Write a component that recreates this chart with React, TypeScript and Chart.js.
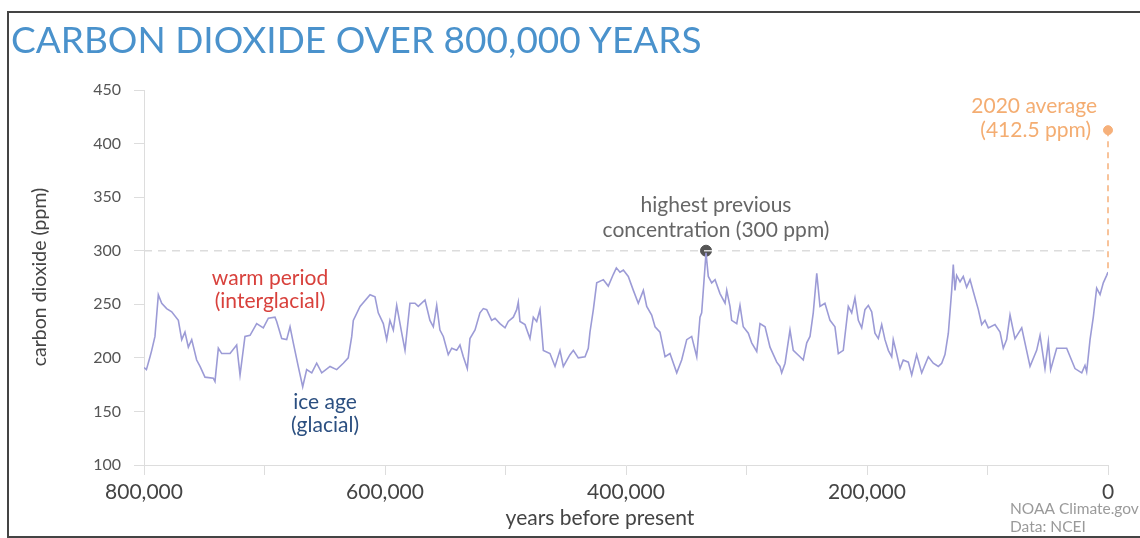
import React, { useEffect, useRef } from "react";
import { Chart, registerables } from "chart.js";

Chart.register(...registerables);

// thousands of years before present
const kyrBP: number[] = [
  800, 798, 795, 793.6, 790.9, 788.1, 785.3, 781.2, 777, 771.5, 768.7, 766, 763.2, 760.4, 756.3, 753.5, 749.4, 742.5, 741.1, 738.3,
  735.5, 728.6, 723.1, 720.3, 716.2, 712, 706.5, 701, 696.8, 691.3, 689.9, 685.7, 681.6, 678.8, 676.1, 672, 668.3, 665, 660.8, 656.7,
  652.5, 645.6, 640.1, 634.6, 630.5, 627.6, 626.3, 620.7, 612.4, 608.3, 605.6, 601.4, 598.6, 595.9, 593.1, 590.3, 586.1, 583.4, 579.3, 575.1,
  572.4, 566.8, 562.7, 559.9, 557.1, 554.4, 551.6, 547.5, 544.6, 540.5, 537.8, 535, 531.7, 529.5, 525.3, 521.2, 518.4, 515.6, 511.5, 508.7,
  504.6, 500.4, 497.7, 493.5, 490.7, 489.4, 488, 483.8, 479.7, 476.9, 474.1, 471.4, 468.6, 463.1, 458.9, 454.8, 452, 446.5, 443.7, 439.6,
  434, 431.3, 429.9, 427.1, 424.3, 418.8, 414.7, 410.5, 408, 405, 402.2, 398.1, 393.9, 389.8, 385.6, 382.8, 378.7, 375.9, 371.8, 367.6,
  363.5, 357.9, 353.8, 349.6, 345.5, 341.3, 338.6, 337.2, 333.6, 331.7, 328.9, 326.1, 322, 317.8, 316.4, 313.7, 312.3, 308.1, 305.4, 302.7,
  298.5, 295.7, 291.5, 288.8, 284.6, 280.5, 274.9, 272.2, 270.8, 268, 263.9, 261.2, 255.6, 252.9, 250, 247.3, 244.6, 241.7, 239, 234.9,
  230.7, 226.6, 223.8, 219.7, 215.5, 212.7, 210, 207.2, 204.4, 201.7, 198.9, 196.1, 193.4, 190.6, 187.8, 185.1, 182.3, 179.5, 178.2, 175.4,
  172.6, 169.9, 165.7, 162.9, 158.8, 154.6, 149.1, 145, 140.8, 138, 135.3, 132.5, 129.7, 128.4, 127, 125.6, 122.8, 120.1, 117.3, 114.5,
  111.8, 107.6, 104.8, 102.1, 99.3, 93.8, 89.6, 86.9, 84.1, 81.3, 77.2, 71.6, 64.7, 59.2, 56.4, 52.3, 49.5, 47.6, 42.6, 34.3,
  27.4, 21.8, 19.1, 17.7, 14.9, 12.2, 9.4, 6.6, 3.9, 1.1, 0,
];

// carbon dioxide, ppm
const co2ppm: number[] = [
  191, 189, 201, 207, 220, 259, 251, 246, 243, 235, 217, 224, 210, 217, 198, 192, 182, 181, 178, 209,
  204, 204, 212, 184, 220, 221, 232, 228, 237, 238, 234, 218, 217, 229, 214, 192, 173, 189, 186, 195,
  186, 192, 189, 195, 200, 220, 235, 248, 259, 257, 242, 232, 217, 235, 226, 249, 223, 207, 251, 251,
  248, 254, 235, 229, 249, 226, 220, 203, 209, 207, 212, 201, 190, 218, 226, 242, 246, 245, 235, 237,
  232, 228, 234, 238, 245, 252, 234, 231, 218, 238, 234, 245, 207, 204, 192, 207, 192, 203, 207, 200,
  201, 209, 224, 245, 270, 273, 267, 278, 284, 280, 282, 276, 263, 251, 263, 248, 240, 229, 224, 201,
  204, 186, 198, 217, 220, 201, 238, 242, 298, 276, 270, 273, 260, 251, 263, 248, 235, 232, 249, 229,
  223, 214, 206, 232, 229, 210, 196, 192, 186, 195, 226, 207, 201, 198, 214, 220, 242, 279, 248, 251,
  235, 229, 204, 207, 248, 242, 256, 235, 228, 245, 249, 243, 223, 218, 231, 217, 207, 201, 217, 204,
  190, 198, 196, 184, 203, 186, 201, 195, 192, 195, 203, 223, 263, 287, 263, 277, 271, 276, 266, 273,
  262, 245, 231, 235, 228, 231, 224, 209, 217, 240, 218, 228, 192, 207, 221, 190, 215, 189, 209, 209,
  190, 186, 193, 187, 217, 238, 265, 259, 270, 277, 280,
];

const yTicks: number[] = [100, 150, 200, 250, 300, 350, 400, 450];
const xTickLabels: number[] = [800000, 600000, 400000, 200000, 0];

const previousHigh = { kyr: 333.6, ppm: 300 };
const avg2020 = { kyr: 0, ppm: 412.5 };
const preIndustrialTop = 280;

const FONT = "Lato, 'Open Sans', sans-serif";

export default function App() {
  const canvasRef = useRef<HTMLCanvasElement | null>(null);

  useEffect(() => {
    const canvas = canvasRef.current;
    if (!canvas) return;

    const points = kyrBP.map((k, i) => ({ x: k * 1000, y: co2ppm[i] }));

    const textPlugin = {
      id: "texts",
      afterDraw(chart: any) {
        const ctx = chart.ctx;
        const xs = chart.scales.x;
        const ca = chart.chartArea;
        ctx.save();
        ctx.textBaseline = "middle";
        const put = (t: string, x: number, y: number, color: string, size: number, align: CanvasTextAlign = "center") => {
          ctx.font = `${size}px ${FONT}`;
          ctx.fillStyle = color;
          ctx.textAlign = align;
          ctx.fillText(t, x, y);
        };
        const hx = xs.getPixelForValue(previousHigh.kyr * 1000);
        put("highest previous", hx + 10, 205, "#666666", 21);
        put("concentration (300 ppm)", hx + 10, 230, "#666666", 21);
        put("2020 average", ca.right - 11, 106, "#f4ad72", 21, "right");
        put("(412.5 ppm)", ca.right - 17, 130, "#f4ad72", 21, "right");
        put("warm period", 270, 278, "#d8413c", 21);
        put("(interglacial)", 270, 301, "#d8413c", 21);
        put("ice age", 325, 402, "#2b4f80", 21);
        put("(glacial)", 325, 425, "#2b4f80", 21);
        put("years before present", 600, 518, "#444444", 21);
        put("NOAA Climate.gov", 1010, 509, "#9a9a9a", 15.5, "left");
        put("Data: NCEI", 1010, 527, "#9a9a9a", 15.5, "left");
        ctx.translate(40, 277);
        ctx.rotate(-Math.PI / 2);
        put("carbon dioxide (ppm)", 0, 0, "#444444", 19.5);
        ctx.restore();
      },
    };

    const chart = new Chart(canvas, {
      type: "line",
      data: {
        datasets: [
          {
            label: "CO2",
            data: points,
            borderColor: "#9c9bd6",
            borderWidth: 1.6,
            pointRadius: 0,
            tension: 0,
          },
          {
            label: "300 line",
            data: [
              { x: 800000, y: previousHigh.ppm },
              { x: 3000, y: previousHigh.ppm },
            ],
            borderColor: "#dcdcdc",
            borderWidth: 1.5,
            borderDash: [8, 6],
            pointRadius: 0,
          },
          {
            label: "2020 line",
            data: [
              { x: avg2020.kyr * 1000, y: avg2020.ppm },
              { x: avg2020.kyr * 1000, y: preIndustrialTop },
            ],
            borderColor: "#f6b07a",
            borderWidth: 1.5,
            borderDash: [6, 5],
            pointRadius: 0,
            clip: false as any,
          },
          {
            label: "high point",
            data: [{ x: previousHigh.kyr * 1000, y: previousHigh.ppm }],
            showLine: false,
            pointRadius: 5.5,
            pointBackgroundColor: "#555555",
            pointBorderColor: "#555555",
          },
          {
            label: "2020 point",
            data: [{ x: avg2020.kyr * 1000, y: avg2020.ppm }],
            showLine: false,
            pointRadius: 4.5,
            pointBackgroundColor: "#f6b07a",
            pointBorderColor: "#f6b07a",
            clip: false as any,
          },
        ],
      },
      options: {
        responsive: false,
        animation: false,
        parsing: true,
        layout: { padding: { left: 0, top: 90, right: 32, bottom: 0 } },
        plugins: { legend: { display: false }, tooltip: { enabled: false }, title: { display: false } },
        scales: {
          x: {
            type: "linear",
            reverse: true,
            min: 0,
            max: 800000,
            afterFit: (s: any) => {
              s.height = 73;
            },
            afterBuildTicks: (s: any) => {
              const t: any[] = [];
              for (let v = 0; v <= 800000; v += 100000) t.push({ value: v });
              s.ticks = t;
            },
            ticks: {
              autoSkip: false,
              maxRotation: 0,
              padding: 5,
              color: "#444444",
              font: { family: FONT, size: 21 },
              callback: (v: any) => (xTickLabels.includes(Number(v)) ? Number(v).toLocaleString("en-US") : ""),
            },
            grid: { drawOnChartArea: false, tickLength: 10, color: "#dddddd" },
            border: { color: "#dddddd" },
          },
          y: {
            type: "linear",
            min: 100,
            max: 450,
            afterFit: (s: any) => {
              s.width = 144;
            },
            afterBuildTicks: (s: any) => {
              s.ticks = yTicks.map((v) => ({ value: v }));
            },
            ticks: {
              padding: 13,
              color: "#555555",
              font: { family: FONT, size: 16 },
            },
            grid: { drawOnChartArea: false, tickLength: 10, color: "#dddddd" },
            border: { color: "#dddddd" },
          },
        },
      },
      plugins: [textPlugin],
    } as any);

    return () => chart.destroy();
  }, []);

  return (
    <div style={{ position: "absolute", left: 0, top: 0, width: 1140, height: 538, background: "#ffffff", overflow: "hidden" }}>
      <canvas ref={canvasRef} width={1140} height={538} style={{ position: "absolute", left: 0, top: 0, width: 1140, height: 538 }} />
      <div
        style={{
          position: "absolute",
          left: 7,
          top: 11,
          width: 1140,
          height: 523,
          borderTop: "2px solid #444",
          borderLeft: "2px solid #444",
          borderBottom: "2px solid #444",
          pointerEvents: "none",
        }}
      />
      <div
        style={{
          position: "absolute",
          left: 11,
          top: 16,
          fontFamily: FONT,
          fontSize: 37,
          lineHeight: "46px",
          color: "#4a92cc",
          whiteSpace: "nowrap",
        }}
      >
        CARBON DIOXIDE OVER 800,000 YEARS
      </div>
    </div>
  );
}
